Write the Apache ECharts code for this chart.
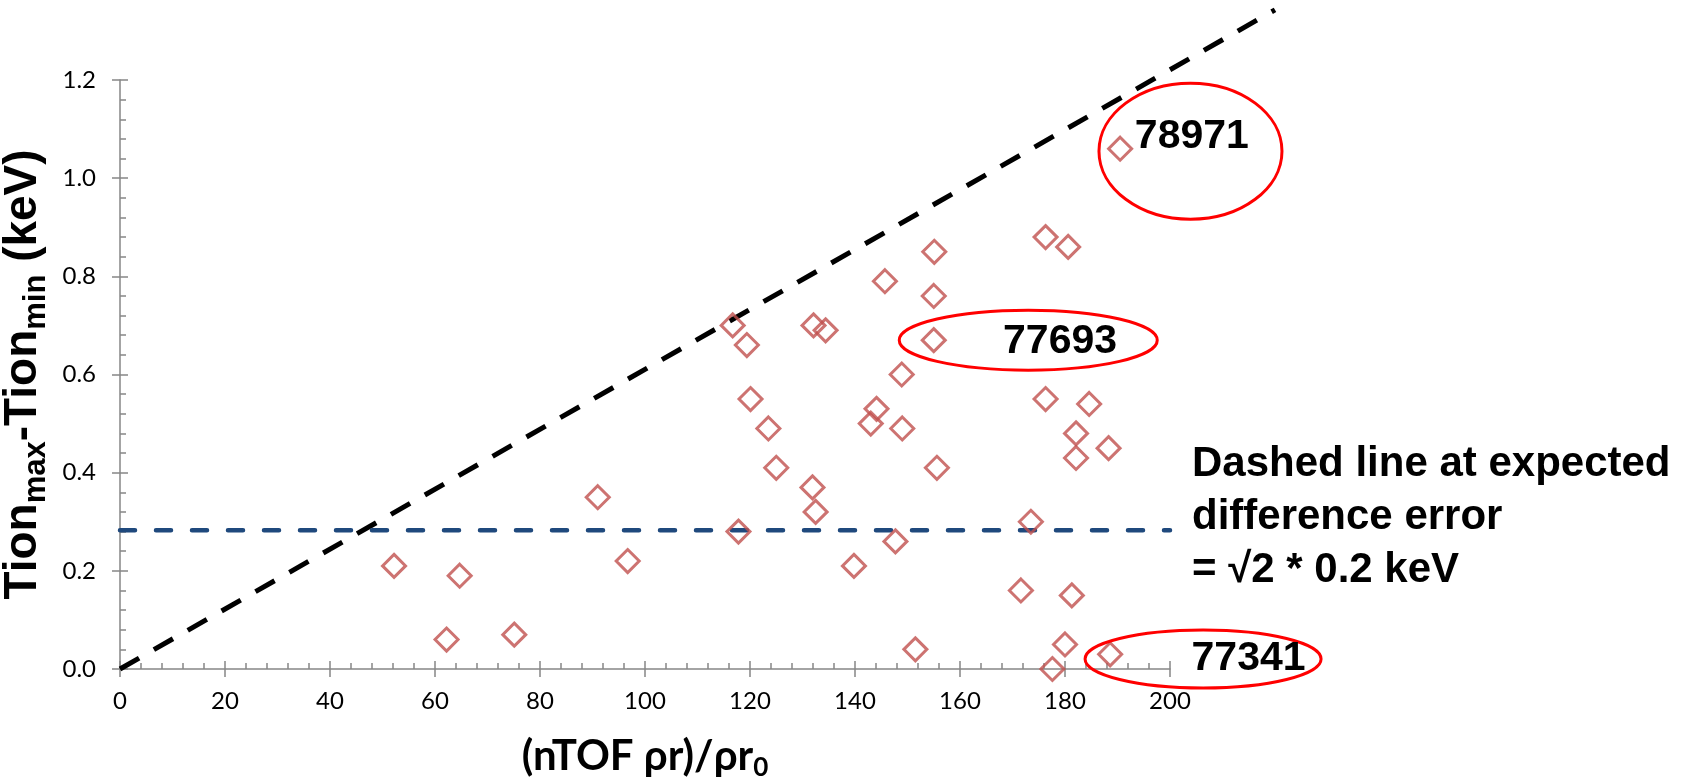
<!DOCTYPE html>
<html>
<head>
<meta charset="utf-8">
<script src="https://cdn.jsdelivr.net/npm/echarts@6/dist/echarts.min.js"></script>
<style>
  html, body { margin: 0; padding: 0; background: #fff; }
  #main { width: 1692px; height: 780px; }
</style>
</head>
<body>
<div id="main"></div>
<script>
// nTOF rho-r ratio vs ion temperature spread, one entry per shot
const rhoRatio = [52.2, 62.2, 64.7, 75.1, 91.0, 96.7, 116.7, 117.8, 119.4, 120.1,
  123.5, 125.0, 131.9, 132.1, 132.5, 134.4, 139.8, 143.0, 144.1, 145.7,
  147.7, 148.9, 149.0, 151.5, 155.1, 155.0, 155.0, 155.6, 171.6, 173.5,
  176.3, 176.3, 177.6, 180.0, 180.6, 181.3, 182.1, 182.1, 184.6, 188.3,
  188.6, 190.5];
const tionDiff = [0.21, 0.06, 0.19, 0.07, 0.35, 0.22, 0.70, 0.28, 0.66, 0.55,
  0.49, 0.41, 0.37, 0.70, 0.32, 0.69, 0.21, 0.50, 0.53, 0.79,
  0.26, 0.60, 0.49, 0.04, 0.85, 0.76, 0.67, 0.41, 0.16, 0.30,
  0.88, 0.55, 0.00, 0.05, 0.86, 0.15, 0.48, 0.43, 0.54, 0.45,
  0.03, 1.06];

// reference lines
const diagonalX = [0, 220];
const diagonalY = [0, 1.343];
const errorLevel = Math.SQRT2 * 0.2;
const errorLineX = [0, 200];

// axes
const xMin = 0, xMax = 200, xStep = 20;
const yMin = 0, yMax = 1.2, yStep = 0.2;
// the diagonal runs past the plot corner, so it gets a wider hidden frame
const xMaxWide = 220, yMaxWide = 1.35;

// labelled shots
const shotNames = ['78971', '77693', '77341'];
const shotTextX = [193.3, 168.2, 204.1];
const shotTextY = [1.084, 0.667, 0.021];
const ringX = [203.9, 173.0, 206.3];
const ringY = [1.055, 0.670, 0.0204];

const noteText = 'Dashed line at expected\ndifference error\n= \u221A2 * 0.2 keV';

const axisGray = '#868686';
const tickFont = 'Lato, "Open Sans", sans-serif';
const boldFont = '"Liberation Sans", Arial, sans-serif';

const chart = echarts.init(document.getElementById('main'));

// plot frame in pixels: x 120..1170, y 80..669
const plotLeft = 120, plotRight = 1170, plotTop = 80, plotBottom = 669;
const pxPerX = (plotRight - plotLeft) / (xMax - xMin);
const pxPerY = (plotBottom - plotTop) / (yMax - yMin);

const gridBox = {left: plotLeft, right: 1692 - plotRight, top: plotTop, bottom: 780 - plotBottom,
  outerBoundsMode: 'none', containLabel: false};
const wideBox = {left: plotLeft, right: 1692 - (plotLeft + pxPerX * xMaxWide),
  top: plotBottom - pxPerY * yMaxWide, bottom: 780 - plotBottom,
  outerBoundsMode: 'none', containLabel: false};

const hiddenAxis = {show: false, splitLine: {show: false}};

const option = {
  animation: false,
  backgroundColor: '#fff',
  grid: [Object.assign({}, gridBox), Object.assign({}, gridBox), wideBox],
  xAxis: [
    {
      type: 'value', gridIndex: 0, min: xMin, max: xMax, interval: xStep,
      axisLine: {lineStyle: {color: axisGray, width: 1.5}},
      axisTick: {inside: true, length: 8, lineStyle: {color: axisGray, width: 1.5}},
      minorTick: {show: true, splitNumber: 5, length: 6, lineStyle: {color: axisGray, width: 1.5}},
      splitLine: {show: false},
      axisLabel: {color: '#000', fontFamily: tickFont, fontSize: 24, margin: 20},
      name: '{m|(nTOF \u03C1r)/\u03C1r}{s|0}',
      nameLocation: 'middle',
      nameGap: 62,
      nameTextStyle: {
        rich: {
          m: {fontFamily: tickFont, fontWeight: 'bold', fontSize: 42, color: '#000', lineHeight: 50},
          s: {fontFamily: tickFont, fontWeight: 'bold', fontSize: 26, color: '#000', lineHeight: 22, verticalAlign: 'bottom'}
        }
      }
    },
    {
      type: 'value', gridIndex: 1, min: xMin, max: xMax, interval: xStep,
      axisLine: {show: false},
      axisTick: {show: true, inside: false, length: 8, lineStyle: {color: axisGray, width: 1.5}},
      axisLabel: {show: false},
      splitLine: {show: false}
    },
    Object.assign({type: 'value', gridIndex: 2, min: xMin, max: xMaxWide}, hiddenAxis)
  ],
  yAxis: [
    {
      type: 'value', gridIndex: 0, min: yMin, max: yMax, interval: yStep,
      axisLine: {show: true, lineStyle: {color: axisGray, width: 1.5}},
      axisTick: {show: true, inside: true, length: 8, lineStyle: {color: axisGray, width: 1.5}},
      minorTick: {show: true, splitNumber: 5, length: 6, lineStyle: {color: axisGray, width: 1.5}},
      splitLine: {show: false},
      axisLabel: {color: '#000', fontFamily: tickFont, fontSize: 24, margin: 24,
        formatter: v => v.toFixed(1)},
      name: '{m|Tion}{s|max}{m|-Tion}{s|min}{m| (keV)}',
      nameLocation: 'middle',
      nameRotate: 90,
      nameGap: 66,
      nameTextStyle: {
        rich: {
          m: {fontFamily: boldFont, fontWeight: 'bold', fontSize: 46, color: '#000', lineHeight: 56},
          s: {fontFamily: boldFont, fontWeight: 'bold', fontSize: 31, color: '#000', lineHeight: 22, verticalAlign: 'bottom'}
        }
      }
    },
    {
      type: 'value', gridIndex: 1, min: yMin, max: yMax, interval: yStep,
      axisLine: {show: false},
      axisTick: {show: true, inside: false, length: 8, lineStyle: {color: axisGray, width: 1.5}},
      axisLabel: {show: false},
      splitLine: {show: false}
    },
    Object.assign({type: 'value', gridIndex: 2, min: yMin, max: yMaxWide}, hiddenAxis)
  ],
  series: [
    {
      name: 'limit',
      type: 'line',
      xAxisIndex: 2, yAxisIndex: 2,
      data: diagonalX.map((x, i) => [x, diagonalY[i]]),
      symbol: 'none',
      clip: false,
      silent: true,
      lineStyle: {color: '#000', width: 5, type: [22, 17]},
      z: 2
    },
    {
      name: 'error',
      type: 'line',
      xAxisIndex: 0, yAxisIndex: 0,
      data: errorLineX.map(x => [x, errorLevel]),
      symbol: 'none',
      silent: true,
      lineStyle: {color: '#1F497D', width: 4.5, type: [15, 21], cap: 'round'},
      z: 2
    },
    {
      name: 'shots',
      type: 'scatter',
      xAxisIndex: 0, yAxisIndex: 0,
      data: rhoRatio.map((x, i) => [x, tionDiff[i]]),
      symbol: 'diamond',
      symbolSize: 23,
      clip: false,
      itemStyle: {color: 'rgba(0,0,0,0)', borderColor: '#C0504D', borderWidth: 3},
      z: 3
    }
  ]
};

chart.setOption(option);

// red rings and shot numbers, placed from data coordinates
const ringSize = [[91.5, 68], [129, 30], [118, 29]];
const graphics = [];
shotNames.forEach((name, i) => {
  const c = chart.convertToPixel({gridIndex: 0}, [ringX[i], ringY[i]]);
  const t = chart.convertToPixel({gridIndex: 0}, [shotTextX[i], shotTextY[i]]);
  graphics.push({
    type: 'ellipse',
    shape: {cx: c[0], cy: c[1], rx: ringSize[i][0], ry: ringSize[i][1]},
    style: {fill: 'none', stroke: '#FF0000', lineWidth: 3},
    z: 10
  });
  graphics.push({
    type: 'text',
    x: t[0], y: t[1],
    style: {text: name, fill: '#000', font: 'bold 41px ' + boldFont,
      textAlign: 'left', textVerticalAlign: 'middle'},
    z: 11
  });
});
graphics.push({
  type: 'text',
  left: 1192, top: 438,
  style: {text: noteText, fill: '#000', font: 'bold 42px ' + boldFont, lineHeight: 53},
  z: 11
});
chart.setOption({graphic: graphics});
</script>
</body>
</html>
